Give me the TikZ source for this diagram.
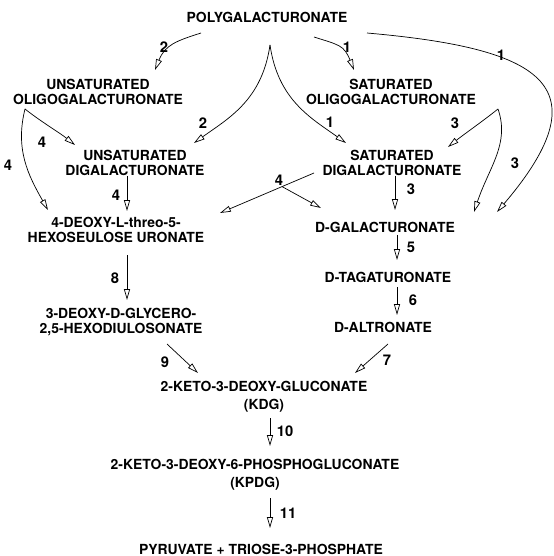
\documentclass[tikz,border=0pt]{standalone}
\usepackage{fontspec}
\setmainfont{TeX Gyre Heros}
\usetikzlibrary{arrows.meta}
\tikzset{
	cmpd/.style={font=\fontsize{9.9}{10.6}\selectfont\bfseries, align=center, inner sep=0pt},
	num/.style={font=\fontsize{10.5}{11}\selectfont\bfseries, inner sep=0pt},
	rxn/.style={-{Triangle[open,length=2.7mm,width=1.5mm]}, line width=0.5pt},
}
\begin{document}
\begin{tikzpicture}[x=0.025cm, y=0.025cm]
	\useasboundingbox (0,0) rectangle (553,-556);
	
	% compounds
	\node[cmpd] (poly) at (267,-17) {POLYGALACTURONATE};
	\node[cmpd] (uoligo) at (98,-91.5) {UNSATURATED\\OLIGOGALACTURONATE};
	\node[cmpd] (soligo) at (391,-91.5) {SATURATED\\OLIGOGALACTURONATE};
	\node[cmpd] (udigal) at (135,-162.5) {UNSATURATED\\DIGALACTURONATE};
	\node[cmpd] (sdigal) at (392,-162.5) {SATURATED\\DIGALACTURONATE};
	\node[cmpd] (deoxy) at (116,-230) {4-DEOXY-L-threo-5-\\HEXOSEULOSE URONATE};
	\node[cmpd] (dgal) at (385,-227) {D-GALACTURONATE};
	\node[cmpd] (dtag) at (388,-277) {D-TAGATURONATE};
	\node[cmpd] (dalt) at (383,-327) {D-ALTRONATE};
	\node[cmpd] (hexo) at (121,-322.5) {3-DEOXY-D-GLYCERO-\\2,5-HEXODIULOSONATE};
	\node[cmpd] (kdg) at (264,-397) {2-KETO-3-DEOXY-GLUCONATE\\[2pt](KDG)};
	\node[cmpd] (kpdg) at (255,-475) {2-KETO-3-DEOXY-6-PHOSPHOGLUCONATE\\[2pt](KPDG)};
	\node[cmpd] (pyr) at (261,-549) {PYRUVATE + TRIOSE-3-PHOSPHATE};
	
	% polygalacturonate splitting
	\draw[rxn] ([shift={(-66,-16)}]poly.center) .. controls +(-25,-8) and +(10,25) .. ([shift={(57,21.5)}]uoligo.center);
	\draw[rxn] ([shift={(47,-20)}]poly.center) .. controls +(25,-8) and +(-10,25) .. ([shift={(-37,21.5)}]soligo.center);
	\coordinate (cusp) at ([shift={(3,-28)}]poly.center);
	\draw[rxn] (cusp) .. controls +(-8,-55) and +(35,25) .. ([shift={(59,19.5)}]udigal.center);
	\draw[rxn] (cusp) .. controls +(8,-55) and +(-35,25) .. ([shift={(-46,19.5)}]sdigal.center);
	\draw[rxn] ([shift={(100,-16)}]poly.center) .. controls +(170,-15) and +(110,129) .. ([shift={(112,15)}]dgal.center);
	\node[num] (n2a) at (164,-47) {2};
	\node[num] (n1a) at (347,-47) {1};
	\node[num] (n2b) at (203,-123) {2};
	\node[num] (n1b) at (330,-122) {1};
	\node[num] (n1c) at (501,-55) {1};
	
	% oligomers to dimers and monomers
	\draw[rxn] ([shift={(107,-17.5)}]soligo.center) .. controls +(-15,-12) and +(15,12) .. ([shift={(56,15.5)}]sdigal.center);
	\draw[rxn] ([shift={(107,-17.5)}]soligo.center) .. controls +(12,-35) and +(15,45) .. ([shift={(89,15)}]dgal.center);
	\draw[rxn] ([shift={(-73,-17.5)}]uoligo.center) .. controls +(15,-12) and +(-15,12) .. ([shift={(-60,17.5)}]udigal.center);
	\draw[rxn] ([shift={(-73,-17.5)}]uoligo.center) .. controls +(-10,-40) and +(-20,35) .. ([shift={(-68,20)}]deoxy.center);
	\node[num] (n3a) at (455,-123) {3};
	\node[num] (n3b) at (515,-163) {3};
	\node[num] (n4a) at (42,-142) {4};
	\node[num] (n4b) at (8,-165) {4};
	
	% dimers
	\draw[rxn] ([shift={(-8,-13.5)}]udigal.center) -- ([shift={(11,19)}]deoxy.center);
	\draw[rxn] ([shift={(-78,-10.5)}]sdigal.center) -- coordinate[pos=0.34] (fork) ([shift={(104,17)}]deoxy.center);
	\draw[rxn] (fork) -- ([shift={(-64,19)}]dgal.center);
	\draw[rxn] ([shift={(3,-13.5)}]sdigal.center) -- ([shift={(10,17)}]dgal.center);
	\node[num] (n4c) at (116,-195) {4};
	\node[num] (n4d) at (279,-180) {4};
	\node[num] (n3c) at (411,-189) {3};
	
	% monomers
	\draw[rxn] ([shift={(12,-8)}]dgal.center) -- ([shift={(9,17)}]dtag.center);
	\draw[rxn] ([shift={(9,-10)}]dtag.center) -- ([shift={(14,12)}]dalt.center);
	\draw[rxn] ([shift={(11,-25)}]deoxy.center) -- ([shift={(6,22.5)}]hexo.center);
	\draw[rxn] ([shift={(46,-21.5)}]hexo.center) -- ([shift={(-66,24)}]kdg.center);
	\draw[rxn] ([shift={(5,-17)}]dalt.center) -- ([shift={(91,24)}]kdg.center);
	\draw[rxn] ([shift={(6,-21)}]kdg.center) -- ([shift={(15,29)}]kpdg.center);
	\draw[rxn] ([shift={(15,-23)}]kpdg.center) -- ([shift={(9,21)}]pyr.center);
	\node[num] (n5) at (411,-247) {5};
	\node[num] (n6) at (413,-300) {6};
	\node[num] (n8) at (115,-278) {8};
	\node[num] (n9) at (165,-362) {9};
	\node[num] (n7) at (387,-360) {7};
	\node[num] (n10) at (285,-431) {10};
	\node[num] (n11) at (288,-513) {11};
	
\end{tikzpicture}
\end{document}
